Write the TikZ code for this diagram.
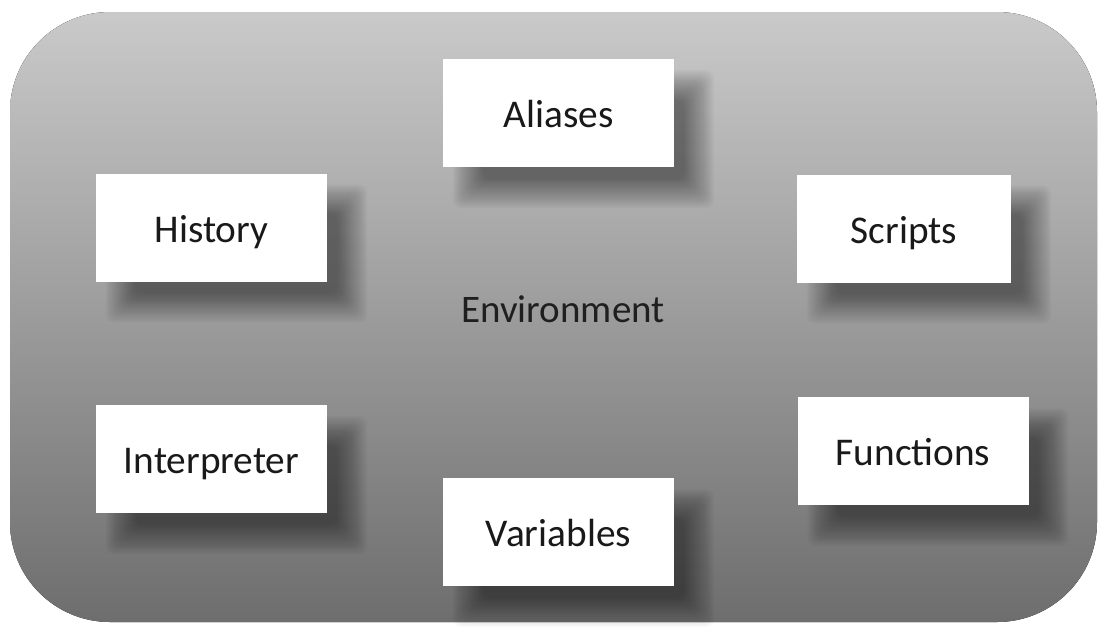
\documentclass[tikz,border=0pt]{standalone}
\usepackage{fontspec}
\setmainfont{Carlito}

\pgfdeclarelayer{back}
\pgfdeclarelayer{shade}
\pgfsetlayers{back,shade,main}

\tikzset{
  panel/.style={top color=black!21, bottom color=black!57, rounded corners=100pt},
  itembox/.style={fill=white, minimum width=231pt, minimum height=108pt, inner sep=0pt,
    font=\fontsize{39.3}{46}\selectfont, text=black!90,
    text height=29.5pt, text depth=0pt},
  centrelabel/.style={font=\fontsize{39}{46}\selectfont, text=black!88,
    text height=29pt, text depth=0pt},
  shadelayer/.style={fill=black, opacity=0.02, rounded corners=8pt}
}

% soft drop shadow behind a named node, built from stacked translucent layers
\newcommand\dropshadow[1]{%
  \begin{pgfonlayer}{shade}
    \foreach \k in {0,...,23}{
      \pgfmathsetmacro\e{15-30*\k/23}
      \path[shadelayer]
        ([shift={(25-\e,26-\e)}]#1.north west) rectangle
        ([shift={(25+\e,26+\e)}]#1.south east);
    }
  \end{pgfonlayer}}

\begin{document}
\begin{tikzpicture}[x=1pt, y=-1pt]
  \useasboundingbox (0,0) rectangle (1107,633);
  % shaded background panel
  \begin{pgfonlayer}{back}
    \fill[panel] (10,12) rectangle (1097,622);
  \end{pgfonlayer}

  \node[centrelabel] (env) at (563,308) {Environment};

  \node[itembox] (aliases)     at (558.5,113)   {Aliases};
  \node[itembox] (history)     at (211.5,227.5) {History};
  \node[itembox, minimum width=214pt] (scripts) at (904,228.5) {Scripts};
  \node[itembox] (interpreter) at (211.5,459)   {Interpreter};
  \node[itembox] (functions)   at (913,451)     {Functions};
  \node[itembox] (variables)   at (558.5,532)   {Variables};

  \dropshadow{aliases}
  \dropshadow{history}
  \dropshadow{scripts}
  \dropshadow{interpreter}
  \dropshadow{functions}
  \dropshadow{variables}
\end{tikzpicture}
\end{document}
